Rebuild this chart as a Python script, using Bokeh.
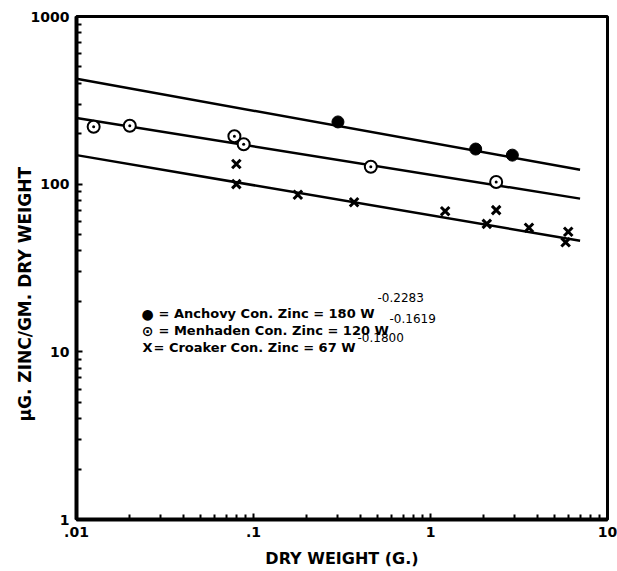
import math
from bokeh.plotting import figure
from bokeh.models import FixedTicker, Label, Range1d, Title
from bokeh.embed import file_html
from bokeh.resources import INLINE

# ---------------- data ----------------
anchovy_w = [0.3, 1.8, 2.9]
anchovy_zn = [235, 162, 149]

menhaden_w = [0.0125, 0.02, 0.078, 0.088, 0.46, 2.35]
menhaden_zn = [220, 223, 193, 173, 127, 103]

croaker_w = [0.080, 0.080, 0.178, 0.37, 1.21, 2.08, 2.35, 3.6, 5.8, 6.0]
croaker_zn = [132, 100, 86.5, 78, 69, 58, 70, 55, 45, 52]

fit_w = [0.01, 7.0]
anchovy_fit = [425, 122]
menhaden_fit = [248, 82]
croaker_fit = [149, 46]

x_ticks = [0.01, 0.1, 1, 10]
x_tick_labels = [".01", ".1", "1", "10"]
y_ticks = [1, 10, 100, 1000]
y_tick_labels = ["1", "10", "100", "1000"]

legend_rows = [
    ("\u25CF", "= Anchovy  Con. Zinc = 180 W", "-0.2283"),
    ("\u2299", "= Menhaden  Con. Zinc = 120 W", "-0.1619"),
    ("X", "= Croaker  Con. Zinc = 67 W", "-0.1800"),
]

FONT = "DejaVu Sans"

p = figure(width=617, height=571, x_axis_type="log", y_axis_type="log",
           x_range=Range1d(0.01, 10), y_range=Range1d(1, 1000),
           output_backend="svg", toolbar_location=None,
           min_border_left=76, min_border_right=10,
           min_border_top=16, min_border_bottom=52)
p.background_fill_color = "white"
p.border_fill_color = "white"
p.grid.visible = False
p.outline_line_color = "black"
p.outline_line_width = 3

minor_x = [m * 10.0 ** e for e in range(-2, 1) for m in range(2, 10)]
minor_y = [m * 10.0 ** e for e in range(0, 3) for m in range(2, 10)]
p.xaxis.ticker = FixedTicker(ticks=x_ticks, minor_ticks=minor_x)
p.yaxis.ticker = FixedTicker(ticks=y_ticks, minor_ticks=minor_y)
p.xaxis.major_label_overrides = {t: l for t, l in zip(x_ticks, x_tick_labels)}
p.yaxis.major_label_overrides = {t: l for t, l in zip(y_ticks, y_tick_labels)}

for ax in (p.xaxis, p.yaxis):
    ax.axis_line_width = 4
    ax.axis_line_color = "black"
    ax.major_tick_in = 6
    ax.major_tick_out = 0
    ax.minor_tick_in = 5
    ax.minor_tick_out = 0
    ax.major_tick_line_width = 2
    ax.minor_tick_line_width = 2
    ax.major_label_text_font = FONT
    ax.major_label_text_font_style = "bold"
    ax.major_label_text_font_size = "14px"
    ax.major_label_text_color = "black"
    ax.major_label_standoff = 7

p.xaxis.axis_label = "DRY WEIGHT (G.)"
p.xaxis.axis_label_text_font = FONT
p.xaxis.axis_label_text_font_style = "bold"
p.xaxis.axis_label_text_font_size = "16px"
p.xaxis.axis_label_text_color = "black"
p.xaxis.axis_label_standoff = 9

# y-axis title, placed in the left panel
p.add_layout(Title(text="\u03BCG. ZINC/GM. DRY WEIGHT", align="left",
                   offset=98, text_font=FONT, text_font_style="bold",
                   text_font_size="17px", text_color="black", standoff=-14),
             "left")

# fitted lines
for fit in (anchovy_fit, menhaden_fit, croaker_fit):
    p.line(fit_w, fit, line_color="black", line_width=2.5)

# data points
p.scatter(anchovy_w, anchovy_zn, marker="circle", size=12,
          fill_color="black", line_color="black")
p.scatter(menhaden_w, menhaden_zn, marker="circle_dot", size=12,
          fill_color="white", line_color="black", line_width=2)
p.scatter(croaker_w, croaker_zn, marker="x", size=12,
          line_color="black", line_width=3)

# legend text
row_y = [206, 189, 172]
sup_y = [222, 201, 182]
text_x = [82, 82, 77]
sup_x = [301, 313, 281]
for (mk, txt, sup), ry, sy, tx, sx in zip(legend_rows, row_y, sup_y, text_x, sup_x):
    p.add_layout(Label(x=71, y=ry, x_units="screen", y_units="screen", text=mk,
                       text_align="center", text_baseline="middle",
                       text_font=FONT, text_font_style="bold",
                       text_font_size="14px" if mk != "X" else "13px",
                       text_color="black"))
    p.add_layout(Label(x=tx, y=ry, x_units="screen", y_units="screen", text=txt,
                       text_align="left", text_baseline="middle",
                       text_font=FONT, text_font_style="bold",
                       text_font_size="13px", text_color="black"))
    p.add_layout(Label(x=sx, y=sy, x_units="screen", y_units="screen", text=sup,
                       text_align="left", text_baseline="middle",
                       text_font=FONT, text_font_size="12px", text_color="black"))

open("out.html", "w").write(file_html(p, INLINE))
